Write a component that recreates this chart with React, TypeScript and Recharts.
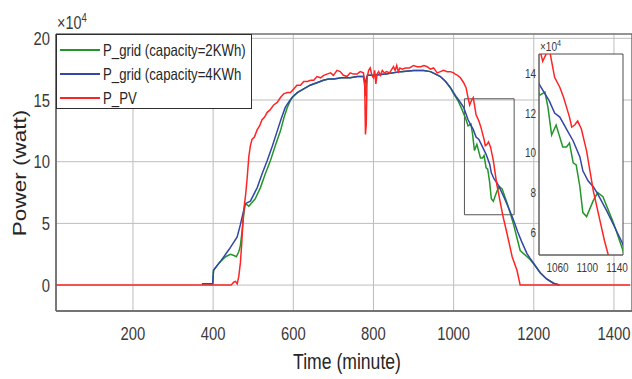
import React from 'react';
import {
    LineChart,
    Line,
    XAxis,
    YAxis,
    CartesianGrid,
    ReferenceArea,
} from 'recharts';

// power values are in units of 10^4 W, time in minutes of the day
const pvMinutes = [
    8, 445, 452, 456, 460, 464, 468, 471, 475, 478, 481, 485, 489, 493, 497, 503, 510, 516, 522, 528,
    535, 542, 551, 560, 568, 576, 585, 593, 601, 609, 618, 626, 635, 643, 651, 659, 668, 676, 684, 693,
    700, 709, 717, 725, 734, 742, 750, 759, 767, 775, 778, 780, 782, 784, 788, 792, 796, 800, 803, 806,
    809, 813, 817, 822, 827, 833, 840, 846, 850, 854, 858, 862, 866, 872, 880, 890, 900, 909, 918, 926,
    934, 942, 950, 959, 967, 975, 984, 992, 1000, 1004, 1010, 1017, 1025, 1031, 1036, 1040, 1045, 1049,
    1053, 1056, 1063, 1068, 1072, 1076, 1079, 1083, 1087, 1092, 1099, 1108, 1117, 1123, 1133, 1146,
    1158, 1166, 1440,
];
const pvPower = [
    0, 0, 0.25, 0.3, 0.1, 0.7, 1.8, 3.2, 5.5, 6.5, 7.3, 8.7, 10.4, 11.3, 11.8, 12.0, 12.6, 12.9, 13.4, 13.6,
    14.0, 14.2, 14.6, 14.8, 15.2, 15.5, 15.6, 15.6, 15.9, 16.2, 16.2, 16.5, 16.5, 16.6, 16.6, 16.9, 16.8, 17.0, 17.1, 17.2,
    17.0, 17.4, 17.3, 17.0, 16.9, 17.2, 17.1, 17.1, 17.3, 17.2, 16.5, 12.2, 13.0, 16.8, 17.4, 17.6, 17.0, 16.8, 17.4, 16.3,
    17.1, 17.3, 17.0, 17.4, 17.2, 17.3, 17.2, 17.5, 17.7, 17.4, 17.8, 17.3, 17.6, 17.5, 17.6, 17.6, 17.8, 17.7, 17.7, 17.8,
    17.7, 17.5, 17.6, 17.2, 17.3, 17.4, 17.3, 17.3, 17.2, 17.1, 17.0, 16.8, 16.4, 16.0, 15.2, 14.6, 15.0, 15.2,
    14.4, 13.8, 13.3, 12.8, 12.3, 11.8, 11.3, 11.4, 11.6, 11.2, 10.1, 8.1, 6.6, 5.6, 4.2, 2.3,
    1.2, 0, 0,
];

const grid4Minutes = [
    372, 399, 401, 420, 440, 460, 468, 475, 480, 493, 510, 522, 535, 548, 560, 570, 580, 590, 597, 610,
    626, 642, 659, 675, 688, 701, 720, 742, 760, 775, 779, 781, 785, 800, 830, 868, 901, 925, 942, 955,
    967, 980, 992, 1000, 1008, 1017, 1025, 1036, 1049, 1056, 1063, 1072, 1081, 1090, 1094, 1101, 1108, 1113, 1126, 1139,
    1148, 1160, 1170, 1183, 1190, 1200, 1216, 1232, 1249, 1264,
];
const grid4Power = [
    0.1, 0.1, 1.2, 2.0, 2.9, 3.9, 4.9, 5.9, 6.6, 6.8, 7.9, 9.0, 10.1, 11.3, 12.5, 13.5, 14.4, 14.9, 15.2, 15.6,
    15.9, 16.2, 16.4, 16.6, 16.7, 16.7, 16.8, 16.8, 16.9, 16.9, 16.4, 16.6, 17.0, 17.0, 17.1, 17.3, 17.4, 17.4, 17.3, 17.1,
    16.9, 16.5, 16.0, 15.6, 15.2, 14.8, 14.4, 13.4, 12.6, 12.0, 11.8, 11.2, 10.6, 9.8, 9.1, 8.6, 8.3, 8.0, 7.1, 6.1,
    5.4, 4.3, 3.5, 2.55, 2.2, 1.75, 1.0, 0.5, 0.15, 0,
];

const grid2Minutes = [
    372, 399, 401, 415, 431, 443, 452, 458, 464, 468, 472, 476, 480, 485, 489, 497, 505, 518, 530, 543,
    555, 568, 577, 585, 592, 597, 610, 626, 642, 659, 675, 688, 701, 720, 742, 760, 775, 778, 780, 782,
    785, 800, 830, 868, 901, 925, 942, 955, 967, 980, 992, 1000, 1010, 1020, 1030, 1036, 1043, 1047, 1052, 1058,
    1067, 1072, 1076, 1081, 1085, 1090, 1094, 1099, 1108, 1114, 1121, 1135, 1148, 1166, 1190, 1200, 1216, 1232, 1249, 1264,
];
const grid2Power = [
    0.1, 0.1, 1.2, 1.8, 2.3, 2.5, 2.4, 2.3, 2.7, 3.2, 4.3, 5.6, 6.6, 6.5, 6.4, 6.7, 7.0, 7.9, 9.0, 10.1,
    11.3, 12.5, 13.6, 14.4, 14.9, 15.2, 15.6, 15.9, 16.2, 16.4, 16.6, 16.7, 16.7, 16.8, 16.8, 16.9, 16.9, 16.2, 15.3, 16.2,
    17.0, 17.0, 17.1, 17.3, 17.4, 17.4, 17.3, 17.1, 16.9, 16.5, 16.0, 15.5, 15.0, 14.3, 13.5, 12.9, 13.05, 12.3, 10.9, 11.4,
    10.3, 10.3, 10.5, 9.5, 9.4, 8.3, 7.0, 6.8, 7.6, 8.0, 7.8, 6.5, 5.1, 2.8, 2.1, 1.7, 1.0, 0.5, 0.15, 0,
];

const timeTicks = [200, 400, 600, 800, 1000, 1200, 1400];
const powerTicks = [0, 5, 10, 15, 20];
const zoomTimeTicks = [1060, 1100, 1140];
const zoomPowerTicks = [6, 8, 10, 12, 14];

const seriesNames = ['P_grid (capacity=2KWh)', 'P_grid (capacity=4KWh', 'P_PV'];
const seriesColors = ['#23952a', '#3347a6', '#ff2424'];

const toRows = (minutes: number[], power: number[]) =>
    minutes.map((t, i) => ({ t, p: power[i] }));

const grid2Data = toRows(grid2Minutes, grid2Power);
const grid4Data = toRows(grid4Minutes, grid4Power);
const pvData = toRows(pvMinutes, pvPower);
const seriesData = [grid2Data, grid4Data, pvData];

const FONT = "'Liberation Sans', Arial, sans-serif";
const TEXT = '#3a3a3a';
const AXIS = '#6a6a6a';
// the text in this figure is set narrow, so glyphs get squeezed horizontally
const SQUEEZE = 0.8;

// tick label drawn narrow around its own anchor point
const makeTick = (fontSize: number, dy: string) =>
    // eslint-disable-next-line @typescript-eslint/no-explicit-any
    function SqueezedTick(props: any) {
        const { x, y, payload, textAnchor } = props;
        return (
            <text
                x={x}
                y={y}
                dy={dy}
                textAnchor={textAnchor}
                fontSize={fontSize}
                fontFamily={FONT}
                fill={TEXT}
                transform={`translate(${x} ${y}) scale(${SQUEEZE} 1) translate(${-x} ${-y})`}
            >
                {payload.value}
            </text>
        );
    };

const MainXTick = makeTick(18.5, '0.71em');
const MainYTick = makeTick(18.5, '0.355em');
const ZoomXTick = makeTick(12.5, '0.71em');
const ZoomYTick = makeTick(12.5, '0.355em');

function Lines() {
    return (
        <>
            {seriesData.map((d, i) => (
                <Line
                    key={seriesNames[i]}
                    data={d}
                    dataKey="p"
                    type="linear"
                    stroke={seriesColors[i]}
                    strokeWidth={1.5}
                    dot={false}
                    isAnimationActive={false}
                />
            ))}
        </>
    );
}

export default function App() {
    return (
        <div
            style={{
                position: 'absolute',
                left: 0,
                top: 0,
                width: 632,
                height: 379,
                overflow: 'hidden',
                background: '#fff',
                fontFamily: FONT,
            }}
        >
            <LineChart
                width={632}
                height={379}
                margin={{ top: 34, right: 0, bottom: 6, left: 4 }}
            >
                <CartesianGrid stroke="#bdbdbd" strokeWidth={1} />
                <XAxis
                    type="number"
                    dataKey="t"
                    domain={[8, 1445]}
                    ticks={timeTicks}
                    interval={0}
                    height={62}
                    tickLine={false}
                    tickSize={0}
                    tickMargin={16}
                    stroke={AXIS}
                    strokeWidth={1.3}
                    tick={<MainXTick />}
                />
                <YAxis
                    type="number"
                    domain={[-2.1, 20.35]}
                    ticks={powerTicks}
                    interval={0}
                    width={52}
                    tickLine={false}
                    tickSize={0}
                    tickMargin={6}
                    stroke={AXIS}
                    strokeWidth={1.3}
                    allowDataOverflow
                    tick={<MainYTick />}
                />
                <ReferenceArea
                    x1={8}
                    x2={1445}
                    y1={-2.1}
                    y2={20.35}
                    fill="none"
                    stroke="#4a4a4a"
                    strokeWidth={1}
                />
                <ReferenceArea
                    x1={1027}
                    x2={1151}
                    y1={5.7}
                    y2={15.1}
                    fill="none"
                    stroke="#555"
                    strokeWidth={1}
                />
                {Lines()}
            </LineChart>

            {/* axis titles */}
            <div
                style={{
                    position: 'absolute',
                    left: 347,
                    top: 362,
                    fontSize: 22,
                    color: '#262626',
                    whiteSpace: 'nowrap',
                    transform: `translate(-50%, -50%) scaleX(${SQUEEZE})`,
                }}
            >
                Time (minute)
            </div>
            <div
                style={{
                    position: 'absolute',
                    left: 19.5,
                    top: 172.5,
                    fontSize: 22.5,
                    color: '#262626',
                    whiteSpace: 'nowrap',
                    transform: `translate(-50%, -50%) scaleX(${SQUEEZE}) rotate(-90deg)`,
                }}
            >
                Power (watt)
            </div>

            {/* zoomed view of the evening ramp-down */}
            <div style={{ position: 'absolute', left: 500, top: 30 }}>
                <LineChart
                    width={132}
                    height={260}
                    margin={{ top: 24, right: 9, bottom: 10, left: 9 }}
                >
                    <CartesianGrid
                        fill="#fff"
                        fillOpacity={1}
                        horizontal={false}
                        vertical={false}
                    />
                    <XAxis
                        type="number"
                        dataKey="t"
                        domain={[1035, 1148]}
                        ticks={zoomTimeTicks}
                        interval={0}
                        allowDataOverflow
                        height={25}
                        tickLine={false}
                        tickSize={0}
                        tickMargin={8}
                        stroke={AXIS}
                        tick={<ZoomXTick />}
                    />
                    <YAxis
                        type="number"
                        domain={[4.87, 14.97]}
                        ticks={zoomPowerTicks}
                        interval={0}
                        allowDataOverflow
                        width={30}
                        tickLine={false}
                        tickSize={0}
                        tickMargin={3}
                        stroke={AXIS}
                        tick={<ZoomYTick />}
                    />
                    {Lines()}
                    <ReferenceArea
                        x1={1035}
                        x2={1148}
                        y1={4.87}
                        y2={14.97}
                        fill="none"
                        stroke="#4a4a4a"
                        strokeWidth={1}
                    />
                </LineChart>
            </div>

            {/* legend */}
            <div
                style={{
                    position: 'absolute',
                    left: 56,
                    top: 34,
                    width: 196,
                    height: 75,
                    border: '1px solid #2e2e2e',
                    background: '#fff',
                    boxSizing: 'border-box',
                    fontSize: 16.5,
                    color: '#262626',
                }}
            >
                {seriesNames.map((name, i) => (
                    <div
                        key={name}
                        style={{
                            position: 'absolute',
                            left: 0,
                            top: 4 + i * 24,
                            height: 22,
                            display: 'flex',
                            alignItems: 'center',
                            whiteSpace: 'nowrap',
                        }}
                    >
                        <span
                            style={{
                                display: 'inline-block',
                                marginLeft: 3,
                                width: 40,
                                height: 2,
                                background: seriesColors[i],
                            }}
                        />
                        <span
                            style={{
                                display: 'inline-block',
                                marginLeft: 3,
                                transform: `scaleX(${SQUEEZE})`,
                                transformOrigin: 'left center',
                            }}
                        >
                            {name}
                        </span>
                    </div>
                ))}
            </div>

            <div
                style={{
                    position: 'absolute',
                    left: 57,
                    top: 11,
                    fontSize: 18,
                    color: TEXT,
                    whiteSpace: 'nowrap',
                    transform: `scaleX(${SQUEEZE})`,
                    transformOrigin: 'left top',
                }}
            >
                ×10<sup style={{ fontSize: 12 }}>4</sup>
            </div>
            <div
                style={{
                    position: 'absolute',
                    left: 540,
                    top: 38,
                    fontSize: 12.5,
                    color: TEXT,
                    whiteSpace: 'nowrap',
                    transform: `scaleX(${SQUEEZE})`,
                    transformOrigin: 'left top',
                }}
            >
                ×10<sup style={{ fontSize: 9 }}>4</sup>
            </div>
        </div>
    );
}
